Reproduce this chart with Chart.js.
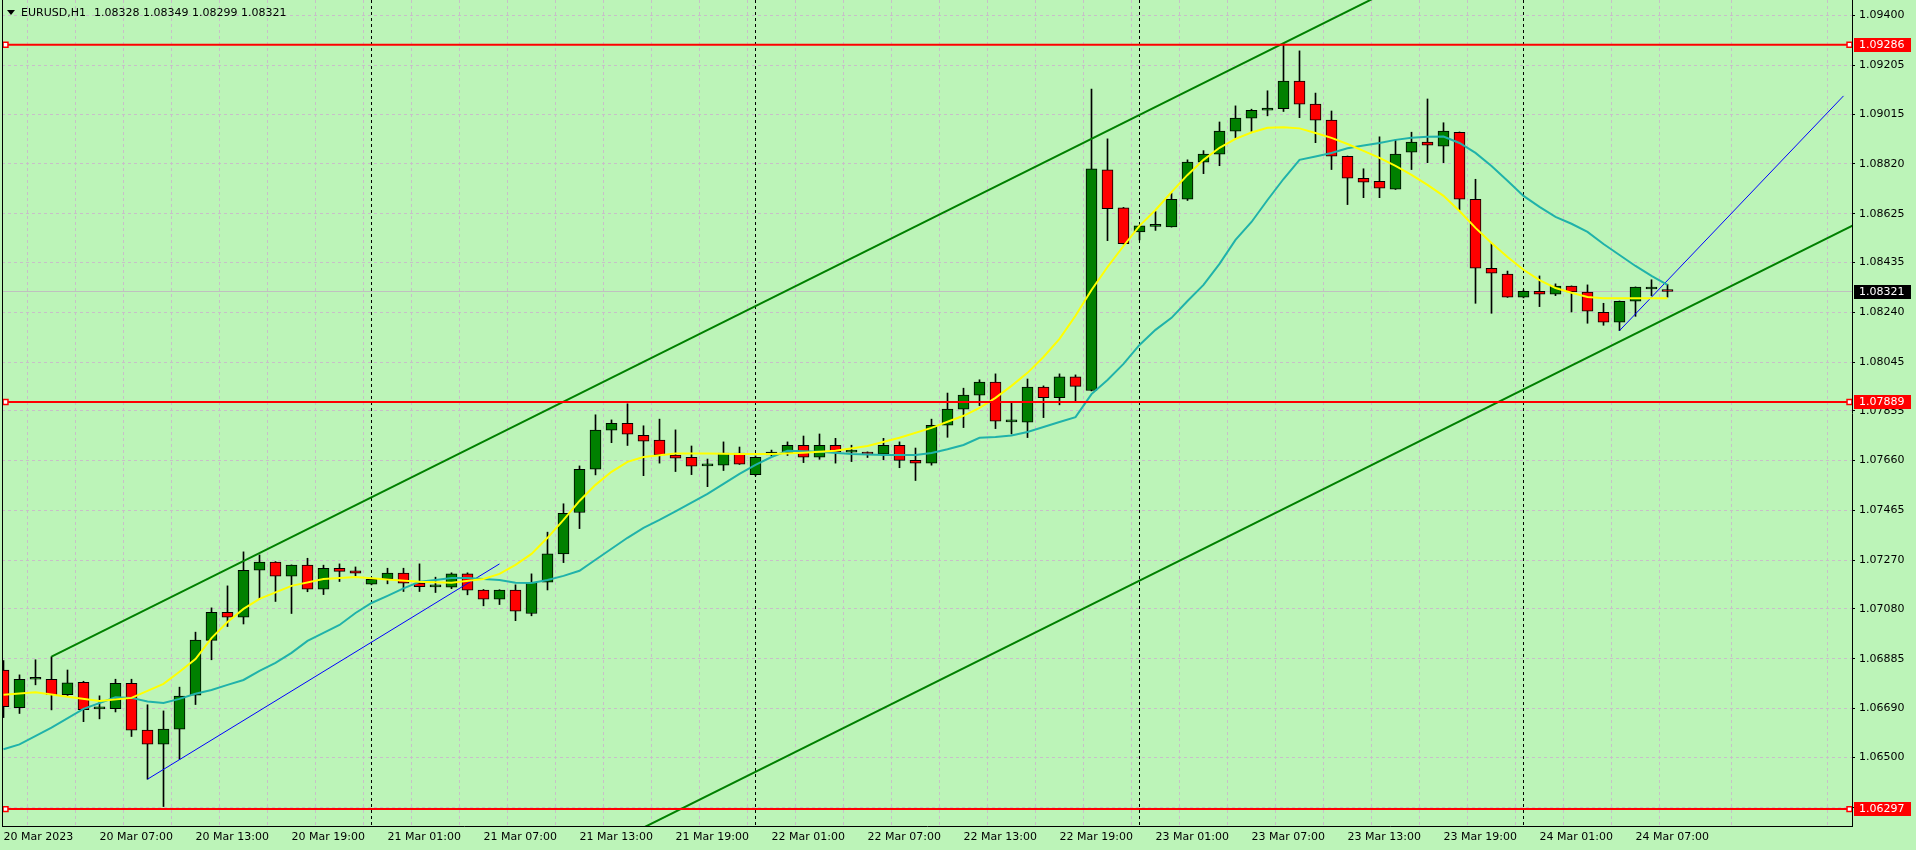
<!DOCTYPE html>
<html>
<head>
<meta charset="utf-8">
<title>EURUSD,H1</title>
<script src="https://cdn.jsdelivr.net/npm/chart.js@4.4.1/dist/chart.umd.min.js"></script>
<style>
  html, body { margin: 0; padding: 0; background: #bcf4b8; overflow: hidden; }
  canvas { display: block; background: #bcf4b8; }
</style>
</head>
<body>
<canvas id="chart" width="1916" height="850"></canvas>
<script>
// hourly bars from 20 Mar 01:00 to 24 Mar 09:00
const symbolTitle = 'EURUSD,H1';
const timeLabels = ['20 Mar 2023', '20 Mar 07:00', '20 Mar 13:00', '20 Mar 19:00',
  '21 Mar 01:00', '21 Mar 07:00', '21 Mar 13:00', '21 Mar 19:00',
  '22 Mar 01:00', '22 Mar 07:00', '22 Mar 13:00', '22 Mar 19:00',
  '23 Mar 01:00', '23 Mar 07:00', '23 Mar 13:00', '23 Mar 19:00',
  '24 Mar 01:00', '24 Mar 07:00'];
const dayStarts = [23, 47, 71, 95];

const opens = [1.06841,1.06694,1.06805,1.06805,1.06745,1.06793,1.06689,1.06690,1.06789,1.06606,
  1.06551,1.06610,1.06743,1.06957,1.07067,1.07048,1.07231,1.07263,1.07208,1.07251,
  1.07157,1.07239,1.07229,1.07177,1.07197,1.07220,1.07181,1.07166,1.07165,1.07217,
  1.07154,1.07118,1.07154,1.07062,1.07184,1.07295,1.07457,1.07626,1.07779,1.07806,
  1.07759,1.07740,1.07681,1.07673,1.07639,1.07642,1.07689,1.07605,1.07682,1.07689,
  1.07720,1.07673,1.07720,1.07693,1.07693,1.07685,1.07720,1.07661,1.07650,1.07798,
  1.07861,1.07916,1.07967,1.07811,1.07810,1.07947,1.07906,1.07987,1.07934,1.08797,
  1.08648,1.08554,1.08576,1.08574,1.08682,1.08827,1.08858,1.08948,1.08999,1.09030,
  1.09036,1.09144,1.09054,1.08991,1.08850,1.08764,1.08752,1.08721,1.08866,1.08905,
  1.08889,1.08944,1.08682,1.08412,1.08389,1.08299,1.08322,1.08311,1.08342,1.08319,
  1.08240,1.08201,1.08283,1.08331,1.08328];
const highs = [1.06878,1.06822,1.06881,1.06893,1.06841,1.06797,1.06740,1.06805,1.06805,1.06705,
  1.06681,1.06774,1.06989,1.07084,1.07170,1.07303,1.07291,1.07265,1.07252,1.07278,
  1.07251,1.07256,1.07244,1.07201,1.07239,1.07239,1.07256,1.07204,1.07221,1.07221,
  1.07156,1.07155,1.07174,1.07217,1.07380,1.07491,1.07639,1.07839,1.07819,1.07882,
  1.07796,1.07822,1.07780,1.07717,1.07666,1.07733,1.07713,1.07678,1.07701,1.07733,
  1.07756,1.07764,1.07747,1.07720,1.07694,1.07747,1.07733,1.07709,1.07822,1.07924,
  1.07943,1.07976,1.07999,1.07887,1.07979,1.07952,1.07999,1.07995,1.09113,1.08918,
  1.08650,1.08578,1.08634,1.08706,1.08836,1.08872,1.08984,1.09047,1.09034,1.09106,
  1.09292,1.09262,1.09097,1.09027,1.08851,1.08801,1.08926,1.08914,1.08944,1.09074,
  1.08981,1.08945,1.08760,1.08510,1.08401,1.08327,1.08382,1.08351,1.08343,1.08347,
  1.08275,1.08284,1.08339,1.08367,1.08349];
const lows = [1.06655,1.06671,1.06783,1.06685,1.06737,1.06639,1.06650,1.06677,1.06581,1.06414,
  1.06307,1.06492,1.06706,1.06881,1.07011,1.07021,1.07119,1.07109,1.07062,1.07147,
  1.07136,1.07187,1.07208,1.07174,1.07178,1.07148,1.07148,1.07144,1.07159,1.07135,
  1.07092,1.07097,1.07034,1.07053,1.07154,1.07261,1.07394,1.07604,1.07730,1.07719,
  1.07601,1.07650,1.07617,1.07605,1.07558,1.07621,1.07645,1.07600,1.07678,1.07680,
  1.07652,1.07665,1.07650,1.07656,1.07672,1.07663,1.07632,1.07582,1.07642,1.07751,
  1.07789,1.07875,1.07785,1.07764,1.07750,1.07828,1.07878,1.07891,1.07932,1.08520,
  1.08507,1.08523,1.08560,1.08573,1.08677,1.08782,1.08813,1.08921,1.08947,1.09008,
  1.09025,1.09001,1.08903,1.08798,1.08661,1.08688,1.08688,1.08720,1.08798,1.08825,
  1.08825,1.08640,1.08275,1.08236,1.08298,1.08296,1.08262,1.08305,1.08241,1.08197,
  1.08189,1.08168,1.08224,1.08305,1.08299];
const closes = [1.06698,1.06805,1.06805,1.06745,1.06791,1.06686,1.06689,1.06789,1.06606,1.06551,
  1.06610,1.06739,1.06958,1.07067,1.07048,1.07231,1.07263,1.07208,1.07251,1.07157,
  1.07239,1.07227,1.07220,1.07196,1.07220,1.07181,1.07167,1.07166,1.07217,1.07153,
  1.07118,1.07154,1.07071,1.07184,1.07295,1.07454,1.07626,1.07779,1.07806,1.07763,
  1.07736,1.07682,1.07669,1.07638,1.07639,1.07689,1.07646,1.07673,1.07693,1.07720,
  1.07673,1.07720,1.07694,1.07695,1.07685,1.07720,1.07661,1.07650,1.07798,1.07861,
  1.07916,1.07967,1.07814,1.07811,1.07947,1.07906,1.07987,1.07950,1.08801,1.08645,
  1.08508,1.08578,1.08576,1.08682,1.08827,1.08858,1.08948,1.08999,1.09030,1.09038,
  1.09144,1.09054,1.08991,1.08850,1.08764,1.08749,1.08725,1.08858,1.08905,1.08893,
  1.08948,1.08682,1.08412,1.08393,1.08299,1.08322,1.08311,1.08342,1.08319,1.08244,
  1.08201,1.08283,1.08338,1.08331,1.08321];

// moving averages: [bar, price]
const fastMA = [[0,1.06744],[2,1.06754],[4,1.06736],[6,1.06720],[8,1.06732],[10,1.06787],[11,1.06834],
  [12,1.06884],[13,1.06966],[14,1.07029],[15,1.07080],[16,1.07119],[18,1.07170],[20,1.07197],
  [22,1.07205],[24,1.07195],[26,1.07186],[28,1.07182],[30,1.07197],[31,1.07217],[32,1.07252],
  [33,1.07295],[34,1.07358],[35,1.07428],[36,1.07502],[37,1.07565],[38,1.07616],[39,1.07655],
  [40,1.07674],[42,1.07688],[44,1.07688],[46,1.07686],[48,1.07686],[50,1.07691],[52,1.07698],
  [54,1.07717],[56,1.07749],[58,1.07788],[59,1.07812],[60,1.07835],[61,1.07866],[62,1.07905],
  [63,1.07952],[64,1.08003],[65,1.08065],[66,1.08136],[67,1.08226],[68,1.08327],[69,1.08417],
  [70,1.08499],[71,1.08578],[72,1.08640],[73,1.08710],[74,1.08777],[75,1.08836],[76,1.08883],
  [77,1.08918],[78,1.08943],[79,1.08961],[80,1.08963],[81,1.08959],[82,1.08941],[83,1.08922],
  [84,1.08898],[85,1.08871],[86,1.08844],[87,1.08812],[88,1.08777],[89,1.08738],[90,1.08695],
  [91,1.08636],[92,1.08570],[93,1.08511],[94,1.08456],[95,1.08406],[96,1.08366],[97,1.08335],
  [98,1.08316],[99,1.08300],[100,1.08295],[102,1.08295],[104,1.08295]];
const slowMA = [[0,1.06531],[1,1.06550],[3,1.06616],[5,1.06689],[7,1.06734],[8,1.06732],[9,1.06718],
  [10,1.06712],[11,1.06728],[12,1.06748],[13,1.06763],[14,1.06783],[15,1.06802],[16,1.06838],
  [17,1.06869],[18,1.06908],[19,1.06955],[20,1.06986],[21,1.07017],[22,1.07064],[23,1.07103],
  [24,1.07131],[25,1.07160],[26,1.07186],[27,1.07193],[28,1.07201],[29,1.07201],[30,1.07197],
  [31,1.07193],[32,1.07182],[33,1.07181],[34,1.07193],[35,1.07209],[36,1.07229],[37,1.07272],
  [38,1.07315],[39,1.07358],[40,1.07397],[41,1.07428],[42,1.07461],[43,1.07496],[44,1.07530],
  [45,1.07569],[46,1.07608],[47,1.07643],[48,1.07674],[49,1.07698],[51,1.07694],[53,1.07686],
  [55,1.07682],[57,1.07682],[58,1.07690],[59,1.07704],[60,1.07721],[61,1.07749],[62,1.07752],
  [63,1.07758],[64,1.07772],[65,1.07791],[66,1.07811],[67,1.07830],[68,1.07920],[69,1.07975],
  [70,1.08038],[71,1.08112],[72,1.08171],[73,1.08218],[74,1.08284],[75,1.08347],[76,1.08429],
  [77,1.08523],[78,1.08593],[79,1.08679],[80,1.08761],[81,1.08836],[82,1.08849],[83,1.08863],
  [84,1.08881],[85,1.08892],[86,1.08902],[87,1.08914],[88,1.08922],[89,1.08926],[90,1.08927],
  [91,1.08902],[92,1.08863],[93,1.08812],[94,1.08754],[95,1.08695],[96,1.08652],[97,1.08613],
  [98,1.08586],[99,1.08554],[100,1.08507],[101,1.08464],[102,1.08421],[103,1.08382],[104,1.08347]];

const priceTicks = [1.09400, 1.09205, 1.09015, 1.08820, 1.08625, 1.08435, 1.08240, 1.08045, 1.07855,
  1.07660, 1.07465, 1.07270, 1.07080, 1.06885, 1.06690, 1.06500, 1.06305];
const levels = [1.09286, 1.07889, 1.06297];
// trend objects: [bar, price] anchors
const channelAnchors = [[3, 1.06893], [80, 1.09292]];
const channelWidth = 0.01821;
const blueLines = [[[9, 1.06414], [31, 1.07256]], [[101, 1.08168], [115, 1.09086]]];

const xMin = -0.09375, xMax = 115.53125;
const yMin = 1.06231, yMax = 1.09461;
const gridColor = '#c8bec8';
const fontFamily = 'DejaVu Sans';

const bars = opens.map((_, i) => i);
const last = opens.length - 1;
const bodyColors = bars.map(i => closes[i] >= opens[i] ? '#008000' : '#ff0000');

const slope = (channelAnchors[1][1] - channelAnchors[0][1]) / (channelAnchors[1][0] - channelAnchors[0][0]);
const rayEnd = 125;
const upperChannel = [
  { x: channelAnchors[0][0], y: channelAnchors[0][1] },
  { x: rayEnd, y: channelAnchors[0][1] + slope * (rayEnd - channelAnchors[0][0]) }
];
const lowerChannel = upperChannel.map(p => ({ x: p.x, y: p.y - channelWidth }));

const datasets = [];
levels.forEach(v => datasets.push({
  type: 'line', data: [{ x: 0.125, y: v }, { x: 115.375, y: v }],
  borderColor: '#ff0000', borderWidth: 2, pointStyle: 'rect', pointRadius: 3.5,
  pointBackgroundColor: '#ffffff', pointBorderColor: '#ff0000', pointBorderWidth: 1.5, order: 1
}));
datasets.push({ type: 'line', data: fastMA.map(([x, y]) => ({ x, y })), borderColor: '#ffff00',
  borderWidth: 2, pointRadius: 0, order: 3 });
datasets.push({ type: 'line', data: slowMA.map(([x, y]) => ({ x, y })), borderColor: '#20b2aa',
  borderWidth: 2, pointRadius: 0, order: 4 });
datasets.push({ type: 'line', data: upperChannel, borderColor: '#008000', borderWidth: 2, pointRadius: 0, order: 5 });
datasets.push({ type: 'line', data: lowerChannel, borderColor: '#008000', borderWidth: 2, pointRadius: 0, order: 5 });
blueLines.forEach(l => datasets.push({ type: 'line', data: l.map(([x, y]) => ({ x, y })),
  borderColor: '#0000ff', borderWidth: 1, pointRadius: 0, order: 6 }));
datasets.push({
  type: 'bar', data: bars.map(i => ({ x: i, y: [opens[i], closes[i]] })),
  backgroundColor: bodyColors, borderColor: '#000000', borderWidth: 1, borderSkipped: false,
  barThickness: 11, minBarLength: 2, grouped: false, order: 10
});
datasets.push({
  type: 'bar', data: bars.map(i => ({ x: i, y: [lows[i], highs[i]] })),
  backgroundColor: '#000000', borderWidth: 0, barThickness: 1, grouped: false, order: 11
});
datasets.push({ type: 'line', data: [{ x: xMin, y: closes[last] }, { x: xMax, y: closes[last] }],
  borderColor: '#c0c0c0', borderWidth: 1, pointRadius: 0, order: 12 });

const gridBars = [];
for (let i = 0; i <= 114; i += 3) gridBars.push(i);

const overlay = {
  id: 'overlay',
  beforeDatasetsDraw(chart) {
    const { ctx, chartArea, scales } = chart;
    ctx.save();
    ctx.strokeStyle = '#000';
    ctx.lineWidth = 1;
    ctx.setLineDash([3, 3]);
    dayStarts.forEach(d => {
      const x = Math.round(scales.x.getPixelForValue(d) - 0.5) + 0.5;
      ctx.beginPath();
      ctx.moveTo(x, chartArea.top);
      ctx.lineTo(x, chartArea.bottom);
      ctx.stroke();
    });
    ctx.restore();
  },
  afterDraw(chart) {
    const { ctx, chartArea, scales } = chart;
    ctx.save();
    // left frame
    ctx.strokeStyle = '#000';
    ctx.lineWidth = 1;
    ctx.beginPath();
    ctx.moveTo(chartArea.left + 0.5, chartArea.top);
    ctx.lineTo(chartArea.left + 0.5, chartArea.bottom);
    ctx.stroke();
    // header
    ctx.fillStyle = '#000';
    ctx.beginPath();
    ctx.moveTo(7, 10); ctx.lineTo(15, 10); ctx.lineTo(11, 15); ctx.closePath();
    ctx.fill();
    ctx.font = '11px "' + fontFamily + '"';
    ctx.textBaseline = 'middle';
    ctx.fillText(symbolTitle, 21, 13);
    ctx.fillText([opens[last], highs[last], lows[last], closes[last]].map(v => v.toFixed(5)).join(' '), 94, 13);
    // price labels on the axis
    const box = (v, color) => {
      const y = Math.round(scales.y.getPixelForValue(v));
      ctx.fillStyle = color;
      ctx.fillRect(chartArea.right + 2, y - 7, 57, 14);
      ctx.fillStyle = '#fff';
      ctx.fillText(v.toFixed(5), chartArea.right + 7, y + 0.5);
    };
    levels.forEach(v => box(v, '#ff0000'));
    box(closes[last], '#000000');
    ctx.restore();
  }
};

new Chart(document.getElementById('chart'), {
  type: 'bar',
  data: { datasets },
  options: {
    responsive: false,
    animation: false,
    layout: { autoPadding: false, padding: { left: 2, top: 0, right: 0, bottom: 0 } },
    plugins: { legend: { display: false }, tooltip: { enabled: false } },
    scales: {
      x: {
        type: 'linear', min: xMin, max: xMax, offset: false, position: 'bottom',
        afterBuildTicks: s => { s.ticks = gridBars.map(v => ({ value: v })); },
        afterFit: s => { s.height = 24; s.paddingLeft = 0; s.paddingRight = 0; },
        ticks: {
          autoSkip: false, maxRotation: 0, minRotation: 0, align: 'start', padding: 5,
          color: '#000', font: { family: fontFamily, size: 11 },
          callback: v => (v % 6 === 0 ? timeLabels[v / 6] : '')
        },
        grid: { color: c => (c.tick && c.tick.value === 0 ? 'rgba(0,0,0,0)' : gridColor), drawTicks: false },
        border: { color: '#000', width: 1, dash: [3, 3] }
      },
      y: {
        type: 'linear', position: 'right', min: yMin, max: yMax,
        afterBuildTicks: s => { s.ticks = priceTicks.map(v => ({ value: v })); },
        afterFit: s => { s.width = 64; s.paddingTop = 0; s.paddingBottom = 0; },
        ticks: {
          autoSkip: false, padding: 4, color: '#000', font: { family: fontFamily, size: 11 },
          callback: v => v.toFixed(5)
        },
        grid: { color: gridColor, drawTicks: true, tickLength: 3, tickColor: '#000', tickBorderDash: [] },
        border: { color: '#000', width: 1, dash: [3, 3] }
      }
    }
  },
  plugins: [overlay]
});
</script>
</body>
</html>
